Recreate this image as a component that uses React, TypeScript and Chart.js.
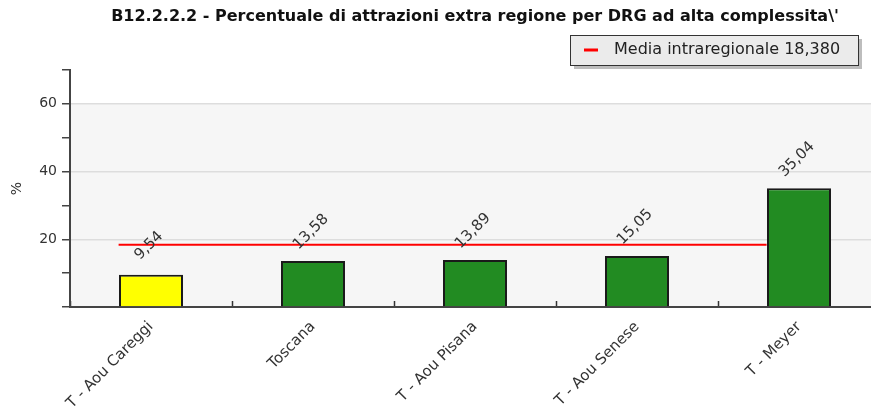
import React, { useEffect, useRef } from "react";
import { Chart, registerables } from "chart.js";

Chart.register(...registerables);

const chartTitle = "B12.2.2.2 - Percentuale di attrazioni extra regione per DRG ad alta complessita\\'";
const categories = ["T - Aou Careggi", "Toscana", "T - Aou Pisana", "T - Aou Senese", "T - Meyer"];
const values = [9.54, 13.58, 13.89, 15.05, 35.04];
const valueLabels = ["9,54", "13,58", "13,89", "15,05", "35,04"];
const barColors = ["#FFFF00", "#228B22", "#228B22", "#228B22", "#228B22"];
const meanValue = 18.38;
const meanLabel = "Media intraregionale 18,380";
const meanLineX = [-0.2, 3.8];
const yTickStep = 10;
const yMax = 70;

const FONT = "'DejaVu Sans', Verdana, sans-serif";

const bgPlugin = {
  id: "plotBg",
  beforeDraw(chart: any) {
    const { ctx, chartArea, scales } = chart;
    const top = scales.y.getPixelForValue(60);
    ctx.save();
    ctx.fillStyle = "#F6F6F6";
    ctx.fillRect(chartArea.left, top, chartArea.right - chartArea.left, chartArea.bottom - top);
    ctx.restore();
  },
};

const valueLabelPlugin = {
  id: "valueLabels",
  afterDatasetsDraw(chart: any) {
    const { ctx } = chart;
    const meta = chart.getDatasetMeta(0);
    ctx.save();
    ctx.font = "15px " + FONT;
    ctx.fillStyle = "#333";
    ctx.textAlign = "center";
    ctx.textBaseline = "middle";
    meta.data.forEach((bar: any, i: number) => {
      ctx.save();
      ctx.translate(bar.x - 2, bar.y - 29);
      ctx.rotate(-Math.PI / 4);
      ctx.fillText(valueLabels[i], 0, 0);
      ctx.restore();
    });
    ctx.restore();
  },
};

const legendPlugin = {
  id: "boxLegend",
  afterDraw(chart: any) {
    const { ctx } = chart;
    const ds = chart.data.datasets[1];
    const x = 570, y = 35, w = 288, h = 30;
    ctx.save();
    ctx.fillStyle = "#BDBDBD";
    ctx.fillRect(x + 4, y + 4, w, h);
    ctx.fillStyle = "#EBEBEB";
    ctx.fillRect(x, y, w, h);
    ctx.strokeStyle = "#333";
    ctx.lineWidth = 1;
    ctx.strokeRect(x + 0.5, y + 0.5, w, h);
    ctx.strokeStyle = ds.borderColor;
    ctx.lineWidth = 3;
    ctx.beginPath();
    ctx.moveTo(584, y + 15);
    ctx.lineTo(598, y + 15);
    ctx.stroke();
    ctx.font = "16px " + FONT;
    ctx.fillStyle = "#222";
    ctx.textAlign = "left";
    ctx.textBaseline = "middle";
    ctx.fillText(ds.label, 614, y + 15);
    ctx.restore();
  },
};

export default function App() {
  const ref = useRef<HTMLCanvasElement>(null);
  useEffect(() => {
    if (!ref.current) return;
    const chart = new Chart(ref.current, {
      type: "bar",
      data: {
        labels: categories,
        datasets: [
          {
            type: "bar",
            label: "Valori",
            data: values,
            backgroundColor: barColors,
            borderColor: "#1a1a1a",
            borderWidth: 2,
            categoryPercentage: 1,
            barPercentage: 0.395,
            grouped: false,
            order: 2,
          },
          {
            type: "line",
            label: meanLabel,
            xAxisID: "xLine",
            data: meanLineX.map((x) => ({ x, y: meanValue })),
            borderColor: "#FF0000",
            borderWidth: 2,
            pointRadius: 0,
            fill: false,
            order: 1,
          } as any,
        ],
      },
      options: {
        responsive: false,
        animation: false,
        layout: { padding: { top: 0, right: 10, left: 0, bottom: 0 } },
        plugins: {
          legend: { display: false },
          tooltip: { enabled: false },
          title: {
            display: true,
            text: chartTitle,
            fullSize: false,
            color: "#111",
            font: { family: FONT, size: 16, weight: "bold", lineHeight: 1.2 },
            padding: { top: 7.5, bottom: 43.3 },
          },
        },
        scales: {
          x: {
            type: "category",
            grid: {
              offset: true,
              drawOnChartArea: false,
              drawTicks: true,
              tickLength: -6,
              tickColor: "#333",
              tickWidth: 1.5,
            },
            border: { display: true, color: "#444", width: 2 },
            ticks: {
              maxRotation: 45,
              minRotation: 45,
              padding: 17,
              color: "#333",
              font: { family: FONT, size: 15 },
              autoSkip: false,
            },
            afterFit(scale: any) {
              scale.height = 112;
            },
          },
          xLine: {
            type: "linear",
            display: false,
            offset: false,
            min: -0.5,
            max: 4.5,
          },
          y: {
            min: 0,
            max: yMax,
            ticks: {
              stepSize: yTickStep,
              color: "#333",
              padding: 5,
              font: { family: FONT, size: 14 },
              callback: (v: any) => (v % 20 === 0 && v > 0 ? String(v) : ""),
            },
            grid: {
              color: (c: any) =>
                c.tick && c.tick.value % 20 === 0 && c.tick.value > 0 && c.tick.value < yMax
                  ? "#DDDDDD"
                  : "rgba(0,0,0,0)",
              lineWidth: 1.5,
              tickLength: 8,
              tickColor: "#444",
              tickWidth: 1.5,
            },
            border: { display: true, color: "#444", width: 2 },
            title: {
              display: true,
              text: "%",
              color: "#333",
              font: { family: FONT, size: 14 },
              padding: { top: 9, bottom: 0 },
            },
            afterFit(scale: any) {
              scale.width = 70;
            },
          },
        },
      },
      plugins: [bgPlugin, valueLabelPlugin, legendPlugin],
    });
    return () => chart.destroy();
  }, []);
  return (
    <div style={{ position: "absolute", left: 0, top: 0, width: 871, height: 419, overflow: "hidden", background: "#fff" }}>
      <canvas ref={ref} width={890} height={419} style={{ display: "block" }} />
    </div>
  );
}
